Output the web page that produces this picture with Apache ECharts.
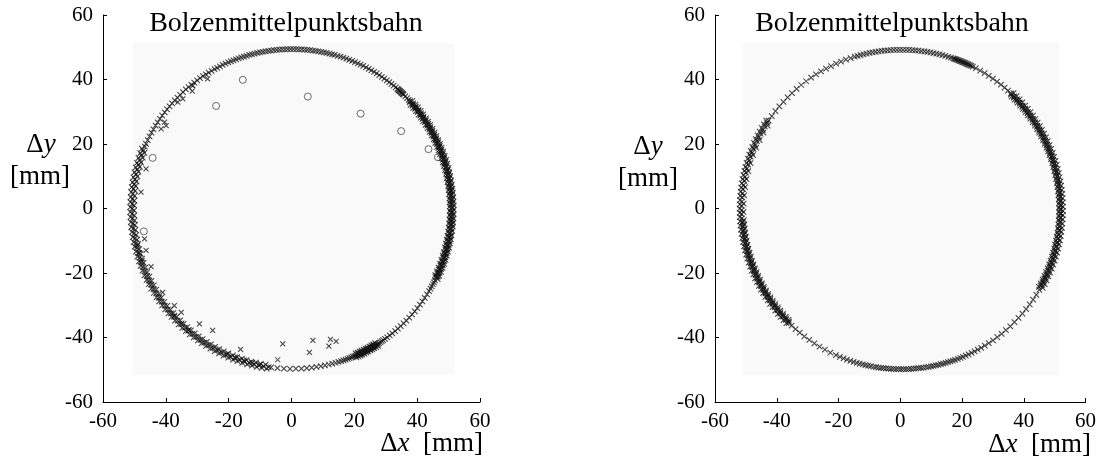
<!DOCTYPE html>
<html>
<head>
<meta charset="utf-8">
<title>Bolzenmittelpunktsbahn</title>
<script src="https://cdn.jsdelivr.net/npm/echarts@6/dist/echarts.min.js"></script>
<style>
  html, body { margin: 0; padding: 0; background: #ffffff; }
  #chart { width: 1099px; height: 459px; }
</style>
</head>
<body>
<div id="chart"></div>
<script>
// Axis ticks shared by both panels (mm)
const axisTicks = [-60, -40, -20, 0, 20, 40, 60];

// Plotting window (shaded area) of each panel, mm: [xmin, xmax, ymin, ymax]
const leftWindow = [-50.6, 51.9, -51.5, 51.2];
const rightWindow = [-50.9, 51.6, -51.8, 51.2];

// Centre of the pin-centre path (mm) and path radii (mm) of the band tracks
const leftCentre = [0.15, -0.15];
const rightCentre = [0.35, -0.3];
const leftRadii = { inner: 49.6, innerMid: 49.9, mid: 50.2, outerMid: 50.5, outer: 50.8 };
const rightRadii = { inner: 50.0, innerMid: 50.3, mid: 50.6, outerMid: 50.9, outer: 51.2 };

// ---- left panel: pin centre positions along the path, angle in degrees ----
const leftPathMid = [
  // upper left and top
  156.0,154.5,153.0,151.5,150.1,148.6,147.2,145.7,144.3,142.8,141.4,140.0,138.6,137.2,135.8,134.4,133.0,131.6,130.3,129.0,
  127.7,126.4,125.1,123.8,122.6,121.4,120.2,119.0,117.9,116.8,115.7,114.6,113.5,112.5,111.5,110.5,109.5,108.5,107.5,106.5,
  105.5,104.5,103.5,102.5,101.5,100.5,99.5,98.5,97.5,96.5,95.5,94.5,93.5,92.5,91.5,90.5,89.5,88.5,87.5,86.5,
  85.5,84.5,83.5,82.5,81.5,80.5,79.5,78.5,77.5,76.5,75.5,74.5,73.4,72.3,71.2,70.1,69.0,67.9,66.8,65.7,
  64.6,63.5,62.4,61.3,60.2,59.1,58.0,56.9,55.8,54.7,53.6,52.5,51.5,50.5,49.5,
  // dwell near 47 deg
  48.7,48.4,48.1,47.8,47.5,47.2,46.9,46.6,46.3,46.0,45.7,44.8,43.9,43.1,
  // right band
  42.4,40.8,39.5,37.9,36.2,34.8,33.3,31.9,30.2,28.8,27.5,25.8,24.3,22.9,21.5,19.8,18.3,16.9,15.3,13.8,
  12.5,10.9,9.3,7.8,6.5,4.9,3.3,1.9,0.5,358.8,357.3,355.9,354.5,352.8,351.3,349.9,348.4,346.8,345.5,343.9,
  342.3,340.8,339.4,337.8,336.3,334.8,
  // lower right
  333.5,332.7,331.9,331.0,330.1,329.1,327.7,326.2,324.7,323.2,321.7,320.2,318.7,317.2,315.7,314.3,312.9,311.5,310.2,308.9,
  307.7,306.6,305.6,
  // dwell near -63 deg
  304.8,304.2,303.6,303.0,302.5,302.0,301.5,301.0,300.5,300.0,299.5,299.0,298.5,298.0,297.5,297.0,296.5,296.0,295.5,295.0,
  294.5,294.0,293.5,293.0,292.4,291.8,291.1,290.4,289.6,288.8,
  // bottom
  287.9,286.9,285.8,284.6,283.3,281.9,280.4,278.8,277.1,275.3,273.4,271.4,269.3,267.1,264.8,262.5,
  // left band
  261.6,259.8,258.0,256.3,254.5,252.7,250.9,249.2,247.4,245.6,243.8,242.1,240.3,238.5,236.7,235.0,233.2,231.4,229.6,227.9,
  226.1,224.3,222.5,220.8,219.0,217.2,215.4,213.7,211.9,210.1,208.3,206.6,204.8,203.0,201.2,199.5,197.7,195.9,194.1,192.4,
  190.6,188.8,187.0,185.3,183.5,181.7,179.9,178.2,176.4,174.6,172.8,171.1,169.3,167.5,165.7,164.0,162.2,160.4,158.6,157.0
];
const leftPathOuter = [
  41.9,40.2,38.9,37.3,35.8,34.1,32.7,31.3,29.7,28.2,26.8,25.2,23.7,22.3,20.8,19.2,17.7,16.3,14.6,13.2,
  11.8,10.2,8.7,7.2,5.8,4.2,2.7,1.3,359.8,358.2,356.7,355.2,353.8,352.2,350.6,349.2,347.7,346.2,344.7,343.2,
  341.7,340.2,338.6,337.1,335.6,334.3,
  302.2,301.4,300.6,299.8,299.0,298.2,297.4,296.6,295.8,295.0,294.2,293.4,
  261.0,259.2,257.4,255.7,253.9,252.1,250.3,248.6,246.8,245.0,243.2,241.5,239.7,237.9,236.1,234.4,232.6,230.8,229.0,227.3,
  225.5,223.7,221.9,220.2,218.4,216.6,214.8,213.1,211.3,209.5,207.7,206.0,204.2,202.4,200.6,198.9,197.1,195.3,193.5,191.8,
  190.0,188.2,186.4,184.7,182.9,181.1,179.3,177.6,175.8,174.0,172.2,170.5,168.7,166.9,165.1,163.4,161.6,159.8,158.1
];
const leftPathInner = [
  41.3,39.8,38.3,36.7,35.3,33.8,32.2,30.8,29.2,27.8,26.2,24.8,23.2,21.8,20.3,18.8,17.2,15.8,14.2,12.8,
  11.3,9.8,8.2,6.9,5.3,3.8,2.3,0.9,359.3,357.8,356.2,354.8,353.3,351.8,350.2,348.8,347.3,345.8,344.1,342.8,
  341.2,339.8,338.2,336.7,335.2,
  301.8,301.0,300.2,299.4,298.6,297.8,297.0,296.2,295.4,294.6,293.8,
  260.4,258.6,256.8,255.1,253.3,251.5,249.7,248.0,246.2,244.4,242.6,240.9,239.1,237.3,235.5,233.8,
  232.0,230.2,228.4,226.7,224.9,223.1,221.3,219.6,217.8,216.0,
  214.2,212.5,210.7,208.9,207.1,205.4,203.6,201.8,200.0,198.3,196.5,194.7,192.9,191.2,189.4,187.6,185.8,184.1,182.3,180.5,
  178.7,177.0,175.2,173.4,171.6,169.9,168.1,166.3,164.5,162.8,161.0,159.2
];
const leftPathInnerMid = [
  42.1,40.6,39.1,37.6,36.1,34.6,33.1,31.6,30.1,28.6,27.1,25.6,24.1,22.6,21.1,19.6,18.1,16.6,15.1,13.6,
  12.1,10.6,9.1,7.6,6.1,4.6,3.1,1.6,0.1,358.6,357.1,355.6,354.1,352.6,351.1,349.6,348.1,346.6,345.1,343.6,
  342.1,340.6,339.1,337.6,336.1,334.6,
  300.9,299.6,298.3,297.1,295.9,294.7,
  258.3,255.5,252.4,249.0,246.1,229.5,226.0,222.2,199.1,196.0,193.3
];
const leftPathOuterMid = [
  41.1,39.6,38.1,36.6,35.1,33.6,32.1,30.6,29.1,27.6,26.1,24.6,23.1,21.6,20.1,18.6,17.1,15.6,14.1,12.6,
  11.1,9.6,8.1,6.6,5.1,3.6,2.1,0.6,359.1,357.6,356.1,354.6,353.1,351.6,350.1,348.6,347.1,345.6,344.1,342.6,
  341.1,339.6,338.1,336.6,335.1,
  300.4,299.1,297.8,296.5,295.3
];
// left panel: positions off the path, [dx, dy] in mm
const leftStray = [
  [-26.7,40.2],[-31.4,38.1],[-31.6,36.4],[-34.6,34.0],[-36.2,33.0],[-39.9,25.7],[-41.5,24.7],[-40.4,26.8],
  [-46.3,12.3],[-47.9,5.1],[-46.8,-9.4],[-46.3,-13.0],[-44.7,-18.0],[-41.0,-26.0],[-37.3,-30.1],[-35.1,-32.2],
  [-29.3,-35.8],[-25.1,-37.8],[-16.2,-43.7],[-2.8,-42.0],[-4.4,-46.9],[6.8,-40.9],[5.7,-44.6],[12.4,-40.6],
  [11.9,-42.7],[14.2,-41.2]
];
// left panel: second point set (circles), [dx, dy] in mm
const leftRings = [
  [-15.5,39.9],[-24.0,31.8],[5.2,34.7],[22.0,29.4],[34.9,24.0],[43.6,18.4],[46.6,15.9],[-44.2,15.7],[-47.0,-7.1]
];

// ---- right panel: pin centre positions along the path, angle in degrees ----
const rightPathMid = [
  // upper left
  144.2,142.0,139.8,137.6,135.4,133.2,131.0,128.8,126.6,124.4,122.3,120.2,118.1,116.1,114.1,112.2,110.3,108.5,
  // top
  107.0,105.9,104.8,103.7,102.6,101.5,100.4,99.3,98.2,97.1,96.0,94.9,93.8,92.7,91.6,90.5,89.4,88.3,87.2,86.1,
  85.0,83.9,82.8,81.7,80.6,79.5,78.4,77.3,76.2,75.1,74.0,72.9,71.9,
  71.0,70.6,70.2,69.8,69.4,69.0,68.6,68.2,67.8,67.4,67.0,66.6,66.2,65.8,65.4,65.0,64.5,64.0,63.4,
  // upper right
  62.2,60.4,58.6,56.8,55.0,53.2,51.4,49.7,48.1,
  // right band
  46.6,45.1,43.6,42.1,40.6,39.1,37.6,36.1,34.6,33.1,31.6,30.1,28.6,27.1,25.6,24.1,22.6,21.1,19.6,18.1,
  16.6,15.1,13.6,12.1,10.6,9.1,7.6,6.1,4.6,3.1,1.6,0.1,358.6,357.1,355.6,354.1,352.6,351.1,349.6,348.1,
  346.6,345.1,343.6,342.1,340.6,339.1,337.6,336.1,334.6,333.1,331.6,
  // lower right
  329.8,327.7,325.6,323.5,321.4,319.3,317.2,315.1,313.0,310.9,308.9,306.9,305.0,303.2,301.5,
  // bottom
  300.0,298.6,297.3,296.1,294.9,293.8,292.7,291.7,290.7,289.7,288.8,287.9,287.0,286.1,285.2,284.3,283.4,282.5,281.6,280.7,
  279.8,278.9,278.0,277.1,276.2,275.3,274.4,273.5,272.6,271.7,270.8,269.9,269.0,268.1,267.2,266.3,265.4,264.5,263.6,262.7,
  261.8,260.9,260.0,259.0,258.0,257.0,256.0,254.9,253.8,252.6,251.4,250.1,248.8,247.4,
  // lower left
  245.8,243.6,241.4,239.2,237.0,234.8,232.6,230.5,228.5,226.6,
  // left band
  225.2,223.7,222.2,220.7,219.2,217.7,216.2,214.7,213.2,211.7,210.2,208.7,207.2,205.7,204.2,202.7,201.2,199.7,198.2,196.7,
  195.2,193.7,192.2,190.7,189.2,187.7,186.2,184.7,183.2,181.7,180.2,178.7,177.2,175.7,174.2,172.7,171.2,169.7,168.2,166.7,
  165.2,163.7,162.2,160.7,159.2,157.7,156.2,154.7,153.2,151.7,150.2,148.7,147.2,146.2
];
const rightPathOuter = [
  46.0,44.5,43.0,41.5,40.0,38.5,37.0,35.5,34.0,32.5,31.0,29.5,28.0,26.5,25.0,23.5,22.0,20.5,19.0,17.5,
  16.0,14.5,13.0,11.5,10.0,8.5,7.0,5.5,4.0,2.5,1.0,359.5,358.0,356.5,355.0,353.5,352.0,350.5,349.0,347.5,
  346.0,344.5,343.0,341.5,340.0,338.5,337.0,335.5,334.0,332.5,331.0,
  224.7,223.2,221.7,220.2,218.7,217.2,215.7,214.2,212.7,211.2,209.7,208.2,206.7,205.2,203.7,202.2,200.7,199.2,197.7,196.2,
  194.7,193.2,191.7,190.2,188.7,187.2,185.7,184.2,182.7,181.2,179.7,178.2,176.7,175.2,173.7,172.2,170.7,169.2,167.7,166.2,
  164.7,163.2,161.7,160.2,158.7,157.2,155.7,154.2,152.7,151.2,149.7,148.2,146.7
];
const rightPathInner = [
  45.6,44.1,42.6,41.1,39.6,38.1,36.6,35.1,33.6,32.1,30.6,29.1,27.6,26.1,24.6,23.1,21.6,20.1,18.6,17.1,
  15.6,14.1,12.6,11.1,9.6,8.1,6.6,5.1,3.6,2.1,0.6,359.1,357.6,356.1,354.6,353.1,351.6,350.1,348.6,347.1,
  345.6,344.1,342.6,341.1,339.6,338.1,336.6,335.1,333.6,332.1,330.6,
  224.4,222.9,221.4,219.9,218.4,216.9,215.4,213.9,212.4,210.9,209.4,207.9,206.4,204.9,203.4,201.9,200.4,198.9,197.4,195.9,
  194.4,192.9,191.4,189.9,188.4,186.9,185.4,183.9,180.9,177.9,174.9,171.9,168.9,165.9,162.9,159.9,156.9,153.9,150.9,147.9
];
const rightPathInnerMid = [
  46.3,44.8,43.3,41.8,40.3,38.8,37.3,35.8,34.3,32.8,31.3,29.8,28.3,26.8,25.3,23.8,22.3,20.8,19.3,17.8,
  16.3,14.8,13.3,11.8,10.3,8.8,7.3,5.8,4.3,2.8,1.3,359.8,358.3,356.8,355.3,353.8,352.3,350.8,349.3,347.8,
  346.3,344.8,343.3,341.8,340.3,338.8,337.3,335.8,334.3,332.8,331.3,
  224.9,223.4,221.9,220.4,218.9,217.4,215.9,214.4,212.9,211.4,209.9,208.4,206.9,205.4,203.9,202.4,200.9,199.4,197.9,196.4,
  194.9,193.4,191.9,190.4,188.9,187.4,185.9,184.4
];

// ---- drawing ----
const SERIF = '"Liberation Serif", "Times New Roman", serif';
const INK = '#000000';
const crossSymbol = 'path://M0,0L10,10M10,0L0,10';
const crossStyle = { color: 'rgba(0,0,0,0)', borderColor: '#141414', borderWidth: 1.05 };

function onPath(angles, r) {
  return angles.map(function (a) { return [r, a]; });
}

const grids = [
  { left: 103, top: 15, width: 377, height: 387 },
  { left: 715, top: 15, width: 377, height: 387 }
];

function valueAxis(gridIndex, isY) {
  return {
    type: 'value',
    gridIndex: gridIndex,
    min: axisTicks[0],
    max: axisTicks[axisTicks.length - 1],
    interval: axisTicks[1] - axisTicks[0],
    axisLine: { show: true, onZero: false, lineStyle: { color: INK, width: 1 } },
    axisTick: { show: true, inside: true, length: 4, lineStyle: { color: INK, width: 1 } },
    axisLabel: { color: INK, fontFamily: SERIF, fontSize: 21, margin: isY ? 10 : 9 },
    splitLine: { show: false }
  };
}

function backdrop(win) {
  return {
    silent: true,
    itemStyle: { color: '#f9f9f9' },
    label: { show: false },
    emphasis: { disabled: true },
    data: [[{ xAxis: win[0], yAxis: win[2] }, { xAxis: win[1], yAxis: win[3] }]]
  };
}

const hiddenAngle = (i) => ({ polarIndex: i, type: 'value', min: 0, max: 360, startAngle: 0, clockwise: false, show: false });
const hiddenRadius = (i) => ({ polarIndex: i, type: 'value', min: 0, max: 60, show: false });

const nameFont = 27;
const rich = {
  r: { fontFamily: SERIF, fontSize: nameFont, fill: INK, color: INK },
  i: { fontFamily: SERIF, fontSize: nameFont, fontStyle: 'italic', fill: INK, color: INK }
};

function label(text, x, y, align, size) {
  return {
    type: 'text', x: x, y: y, silent: true,
    style: {
      text: text, rich: rich, align: align, verticalAlign: 'middle',
      fill: INK, font: (size || nameFont) + 'px ' + SERIF
    }
  };
}

const option = {
  animation: false,
  backgroundColor: '#ffffff',
  grid: grids,
  xAxis: [valueAxis(0, false), valueAxis(1, false)],
  yAxis: [valueAxis(0, true), valueAxis(1, true)],
  polar: [{ center: [0, 0], radius: 1 }, { center: [0, 0], radius: 1 }],
  angleAxis: [hiddenAngle(0), hiddenAngle(1)],
  radiusAxis: [hiddenRadius(0), hiddenRadius(1)],
  graphic: [
    label('Bolzenmittelpunktsbahn', 286, 23.5, 'center', 28),
    label('Bolzenmittelpunktsbahn', 892, 23.5, 'center', 28),
    label('{r|Δ}{i|y}', 41, 145, 'center'),
    label('{r|[mm]}', 40, 177, 'center'),
    label('{r|Δ}{i|y}', 648, 147, 'center'),
    label('{r|[mm]}', 648, 179, 'center'),
    label('{r|Δ}{i|x}{r|  [mm]}', 483, 444, 'right'),
    label('{r|Δ}{i|x}{r|  [mm]}', 1091, 445, 'right')
  ],
  series: [
    {
      name: 'leftStray', type: 'scatter', xAxisIndex: 0, yAxisIndex: 0,
      symbol: crossSymbol, symbolSize: 5, itemStyle: crossStyle, silent: true,
      data: leftStray, markArea: backdrop(leftWindow)
    },
    {
      name: 'leftRings', type: 'scatter', xAxisIndex: 0, yAxisIndex: 0,
      symbol: 'circle', symbolSize: 7, silent: true,
      itemStyle: { color: 'rgba(0,0,0,0)', borderColor: '#333333', borderWidth: 0.9 },
      data: leftRings
    },
    {
      name: 'leftPath', type: 'scatter', coordinateSystem: 'polar', polarIndex: 0,
      symbol: crossSymbol, symbolSize: 5.5, itemStyle: crossStyle, silent: true,
      data: onPath(leftPathMid, leftRadii.mid)
        .concat(onPath(leftPathOuter, leftRadii.outer))
        .concat(onPath(leftPathInner, leftRadii.inner))
        .concat(onPath(leftPathInnerMid, leftRadii.innerMid))
        .concat(onPath(leftPathOuterMid, leftRadii.outerMid))
    },
    {
      name: 'rightWindow', type: 'scatter', xAxisIndex: 1, yAxisIndex: 1,
      data: [], silent: true, markArea: backdrop(rightWindow)
    },
    {
      name: 'rightPath', type: 'scatter', coordinateSystem: 'polar', polarIndex: 1,
      symbol: crossSymbol, symbolSize: 5.5, itemStyle: crossStyle, silent: true,
      data: onPath(rightPathMid, rightRadii.mid)
        .concat(onPath(rightPathOuter, rightRadii.outer))
        .concat(onPath(rightPathInner, rightRadii.inner))
        .concat(onPath(rightPathInnerMid, rightRadii.innerMid))
    }
  ]
};

const chart = echarts.init(document.getElementById('chart'), null, { renderer: 'canvas' });
chart.setOption(option);

// Place each polar system on its panel: centre at the path centre, radius scaled to the grid.
function polarFor(gridIndex, centre) {
  const o = chart.convertToPixel({ gridIndex: gridIndex }, [0, 0]);
  const px = chart.convertToPixel({ gridIndex: gridIndex }, [60, 60]);
  const c = chart.convertToPixel({ gridIndex: gridIndex }, centre);
  const sx = (px[0] - o[0]) / 60;
  const sy = (o[1] - px[1]) / 60;
  return { center: [c[0], c[1]], radius: 60 * (sx + sy) / 2 };
}
chart.setOption({ polar: [polarFor(0, leftCentre), polarFor(1, rightCentre)] });
</script>
</body>
</html>
